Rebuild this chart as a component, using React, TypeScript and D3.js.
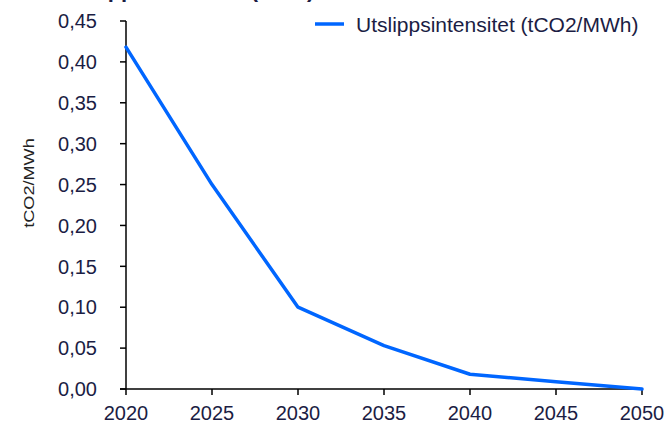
import * as d3 from "d3";

const years = [2020, 2025, 2030, 2035, 2040, 2045, 2050];
const intensity = [0.418, 0.25, 0.1, 0.053, 0.018, 0.009, 0.0];
const yTicks = [0, 0.05, 0.1, 0.15, 0.2, 0.25, 0.3, 0.35, 0.4, 0.45];
const xTicks = [2020, 2025, 2030, 2035, 2040, 2045, 2050];
const seriesName = "Utslippsintensitet (tCO2/MWh)";
const titleText = "Utslippsintensitet (2020)";

const width = 669;
const height = 423;
const margin = { top: 21, right: 27, bottom: 34, left: 126 };
const textColor = "#1b1d44";
const lineColor = "#0066ff";
const font = "Arial, 'Liberation Sans', sans-serif";

const fmt = (v: number) => v.toFixed(2).replace(".", ",");

export default function App() {
  const x = d3
    .scaleLinear()
    .domain([2020, 2050])
    .range([margin.left, width - margin.right]);
  const y = d3
    .scaleLinear()
    .domain([0, 0.45])
    .range([height - margin.bottom, margin.top]);

  const line = d3
    .line<number>()
    .x((_, i) => x(years[i]))
    .y((d) => y(d));

  const y0 = y(0);

  return (
    <svg
      width={width}
      height={height}
      style={{ position: "absolute", left: 0, top: 0, fontFamily: font }}
    >
      <rect width={width} height={height} fill="white" />
      {/* title, mostly cut off at the top */}
      <text x={60} y={-3} fontSize={22} fontWeight="bold" fill={textColor}>
        {titleText}
      </text>

      {/* y axis */}
      <line x1={margin.left} x2={margin.left} y1={margin.top} y2={y0} stroke="black" strokeWidth={1.5} />
      {yTicks.map((t) => (
        <g key={t}>
          <line x1={margin.left - 6} x2={margin.left} y1={y(t)} y2={y(t)} stroke="black" strokeWidth={1.5} />
          <text
            x={margin.left - 29}
            y={y(t)}
            dy="0.36em"
            textAnchor="end"
            fontSize={20}
            fill={textColor}
          >
            {fmt(t)}
          </text>
        </g>
      ))}
      <text
        transform={`translate(34,183) rotate(-90) scale(1.25,1)`}
        textAnchor="middle"
        fontSize={14.5}
        fill="#222"
      >
        tCO2/MWh
      </text>

      {/* x axis */}
      <line x1={margin.left - 6} x2={width - margin.right} y1={y0} y2={y0} stroke="black" strokeWidth={1.5} />
      {xTicks.map((t) => (
        <g key={t}>
          <line x1={x(t)} x2={x(t)} y1={y0} y2={y0 + 6} stroke="black" strokeWidth={1.5} />
          <text x={x(t)} y={y0 + 31} textAnchor="middle" fontSize={20} fill={textColor}>
            {t}
          </text>
        </g>
      ))}

      {/* series */}
      <path
        d={line(intensity) ?? ""}
        fill="none"
        stroke={lineColor}
        strokeWidth={3.5}
        strokeLinejoin="round"
        strokeLinecap="round"
      />

      {/* legend */}
      <line x1={315} x2={344} y1={24} y2={24} stroke={lineColor} strokeWidth={3.5} />
      <text x={356} y={32} fontSize={21} fill={textColor}>
        {seriesName}
      </text>
    </svg>
  );
}
